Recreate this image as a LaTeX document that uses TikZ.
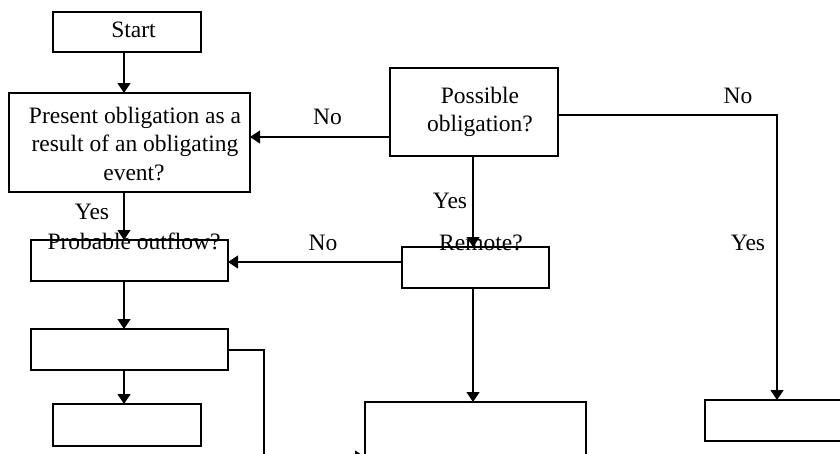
\documentclass[tikz,border=0pt]{standalone}
\usepackage{fontspec}
\setmainfont{Liberation Serif}
\usetikzlibrary{arrows.meta}
\begin{document}
\begin{tikzpicture}[x=1pt,y=-1pt,
  box/.style={draw,line width=1.3pt,inner sep=0pt,outer sep=0pt},
  txt/.style={inner sep=0pt,anchor=base,font=\fontsize{23.5pt}{28pt}\selectfont},
  conn/.style={line width=1.3pt},
  arr/.style={conn,-{Triangle[width=13pt,length=10pt]}}]
\useasboundingbox (0,0) rectangle (840,453);
\clip (0,0) rectangle (840,453);
% boxes
\node[box,minimum width=148pt,minimum height=40pt] (start) at (127,32) {};
\node[box,minimum width=241pt,minimum height=99pt] (present) at (129.5,142.5) {};
\node[box,minimum width=168pt,minimum height=88pt] (possible) at (474,112) {};
\node[box,minimum width=197pt,minimum height=41pt] (probable) at (129.5,260.5) {};
\node[box,minimum width=147pt,minimum height=41pt] (remote) at (475.5,267.5) {};
\node[box,minimum width=197pt,minimum height=41pt] (box3) at (129.5,349.5) {};
\node[box,minimum width=148pt,minimum height=42pt] (box4) at (127,425) {};
\node[box,minimum width=221pt,minimum height=78pt] (box5) at (475.5,441) {};
\node[box,minimum width=150pt,minimum height=41pt] (box6) at (780,420.5) {};
% texts
\node[txt] (tstart) at (133.5,37) {Start};
\node[txt] (tp1) at (135,123) {Present obligation as a};
\node[txt] (tp2) at (135,151) {result of an obligating};
\node[txt] (tp3) at (134,180) {event?};
\node[txt] (tq1) at (480,103) {Possible};
\node[txt] (tq2) at (480,131) {obligation?};
\node[txt] (tno1) at (327.5,124) {No};
\node[txt] (tno2) at (738,103) {No};
\node[txt] (tyes1) at (92,219) {Yes};
\node[txt] (tyes2) at (450,208) {Yes};
\node[txt] (tprob) at (134,249) {Probable outflow?};
\node[txt] (tno3) at (323,250) {No};
\node[txt] (trem) at (481,250) {Remote?};
\node[txt] (tyes3) at (748,250) {Yes};
% lanes
\coordinate (lA) at (124,0);
\coordinate (lB) at (473,0);
\coordinate (lC) at (777,0);
\coordinate (lD) at (264,0);
\coordinate (r1) at (0,137);
\coordinate (r2) at (0,115);
\coordinate (r3) at (0,262);
\coordinate (r4) at (0,350);
\coordinate (r5) at (0,457);
% connectors
\draw[arr] (start.south -| lA) -- (present.north -| lA);
\draw[arr] (present.south -| lA) -- (probable.north -| lA);
\draw[arr] (probable.south -| lA) -- (box3.north -| lA);
\draw[arr] (box3.south -| lA) -- (box4.north -| lA);
\draw[arr] (possible.west |- r1) -- (present.east |- r1);
\draw[arr] (possible.east |- r2) -| (box6.north -| lC);
\draw[arr] (possible.south -| lB) -- (remote.north -| lB);
\draw[arr] (remote.west |- r3) -- (probable.east |- r3);
\draw[arr] (remote.south -| lB) -- (box5.north -| lB);
\draw[arr] (box3.east |- r4) -| (lD |- r5) -- (box5.west |- r5);
\end{tikzpicture}
\end{document}
